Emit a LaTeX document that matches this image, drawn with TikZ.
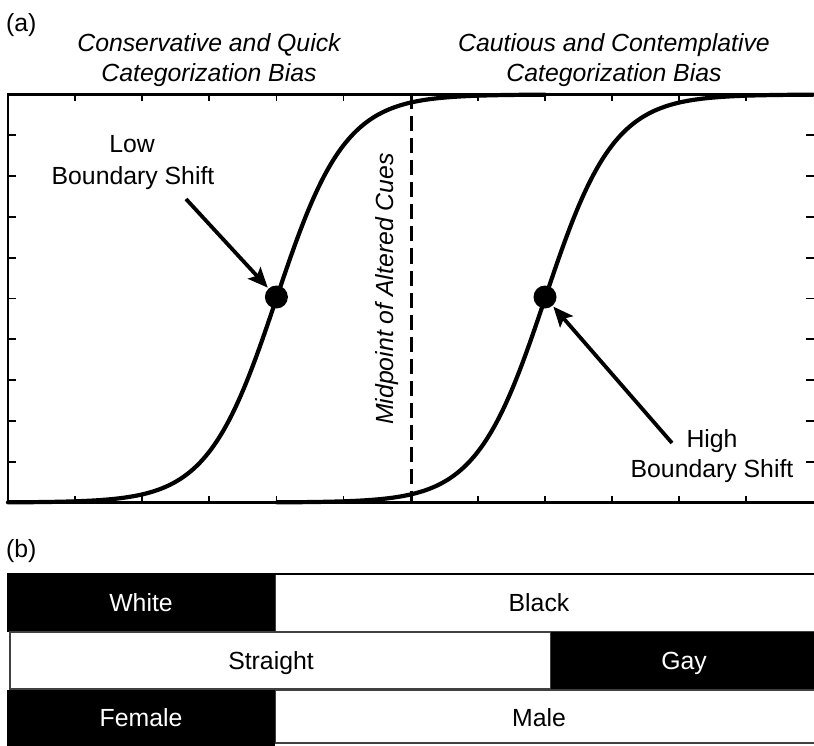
\documentclass[tikz,border=0pt]{standalone}
\usepackage{fontspec}
\setmainfont{Liberation Sans}
\usetikzlibrary{arrows.meta}
\tikzset{
  lbl/.style={font=\fontsize{24.8}{30}\selectfont, inner sep=0pt, anchor=base},
  ilbl/.style={lbl, font=\fontsize{24.8}{30}\selectfont\itshape},
  frame/.style={line width=2.8pt, line cap=rect},
  tick/.style={line width=1.8pt},
  curve/.style={line width=4.2pt, line cap=round},
  midline/.style={line width=3.3pt, dash pattern=on 15pt off 7pt},
  dot/.style={circle, fill=black, inner sep=0pt, minimum size=23pt},
  pointer/.style={line width=3.8pt, -{Stealth[length=20pt, width=17pt, inset=4pt]}, shorten >=1pt},
  wbox/.style={fill=white, draw=black!75, line width=1.2pt},
  bbox/.style={fill=black},
}
\begin{document}
\begin{tikzpicture}[x=1pt, y=-1pt]
  \clip (0,0) rectangle (814,746);
  \fill[white] (0,0) rectangle (814,746);

  % ---------- panel (a) ----------
  \node[lbl, anchor=base west] (la) at (6,32) {(a)};
  \node[ilbl] (t1a) at (209,52) {Conservative and Quick};
  \node[ilbl] (t1b) at (209,82) {Categorization Bias};
  \node[ilbl] (t2a) at (614,52) {Cautious and Contemplative};
  \node[ilbl] (t2b) at (614,82) {Categorization Bias};

  % axes box (right side lies just beyond the edge)
  \draw[frame] (820,94.5) -- (8,94.5) -- (8,502.5) -- (820,502.5);
  \foreach \k in {1,...,9} {
    \draw[tick] (8,{94.5+40.8*\k}) -- ++(8,0);
    \draw[tick] (814,{94.5+40.8*\k}) -- ++(-8,0);
  }
  \foreach \k in {1,...,11} {
    \draw[tick] ({8+67.1*\k},94.5) -- ++(0,7);
    \draw[tick] ({8+67.1*\k},502.5) -- ++(0,-7);
  }

  % dashed midpoint line and its label
  \coordinate (mtop) at (411.5,94.5);
  \coordinate (mbot) at (411.5,502.5);
  \draw[midline] (mtop) -- (mbot);
  \node[ilbl, rotate=90] (mid) at (393,289) {Midpoint of Altered Cues};

  % the two categorization curves
  \draw[curve] plot[domain=8:545, samples=200, smooth]
    (\x, {502.5 - 408/(1+exp(-1.95*(\x-276.4)/67.1))});
  \draw[curve] plot[domain=277:813, samples=200, smooth]
    (\x, {502.5 - 408/(1+exp(-1.95*(\x-545)/67.1))});

  % boundary points
  \node[dot] (d1) at (276.4,297) {};
  \node[dot] (d2) at (545,297) {};

  % low boundary label and arrow
  \node[lbl] (low1) at (132,153) {Low};
  \node[lbl] (low2) at (133,185) {Boundary Shift};
  \coordinate (lowstart) at (186,199);
  \draw[pointer] (lowstart) -- (d1);

  % high boundary label and arrow
  \node[lbl] (high1) at (712,447) {High};
  \node[lbl] (high2) at (712,477) {Boundary Shift};
  \coordinate (highstart) at (672,443);
  \draw[pointer] (highstart) -- (d2);

  % ---------- panel (b) ----------
  \node[lbl, anchor=base west] (lb) at (6,557) {(b)};

  % row 1
  \draw[wbox] (275,573.5) rectangle (820,632);
  \draw[line width=2pt] (275,573.5) -- (820,573.5);
  \fill[bbox] (7,573) rectangle (275,632);
  \node[lbl, white] (white) at (141,611) {White};
  \node[lbl] (black) at (539,611) {Black};

  % row 2
  \draw[wbox] (10,632) rectangle (551,689);
  \fill[bbox] (551,632) rectangle (820,690);
  \node[lbl] (straight) at (271,669) {Straight};
  \node[lbl, white] (gay) at (684,669) {Gay};

  % row 3
  \draw[wbox] (275,690) rectangle (820,743);
  \fill[bbox] (7,690) rectangle (275,750);
  \node[lbl, white] (female) at (141,726) {Female};
  \node[lbl] (male) at (539,726) {Male};
\end{tikzpicture}
\end{document}
